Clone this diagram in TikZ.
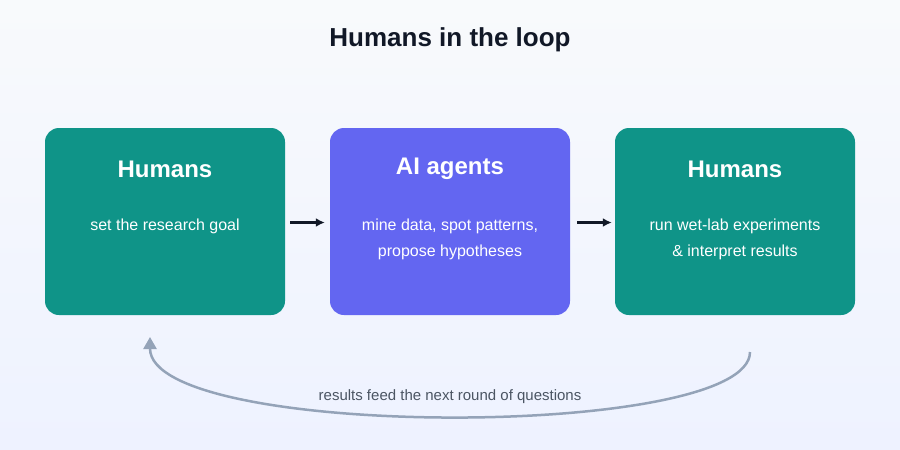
\documentclass[tikz,border=0pt]{standalone}
\usepackage{fontspec}
\setmainfont{Liberation Sans}
\usetikzlibrary{arrows.meta}
\definecolor{tealc}{HTML}{0F9488}
\definecolor{indi}{HTML}{6366F1}
\definecolor{dark}{HTML}{111827}
\definecolor{grayc}{HTML}{94A3B8}
\definecolor{txtg}{HTML}{4B5563}
\definecolor{bgt}{HTML}{F8FAFC}
\definecolor{bgb}{HTML}{EEF2FF}
\begin{document}
\begin{tikzpicture}[x=1pt,y=-1pt,
  box/.style={rounded corners=14pt,minimum width=240pt,minimum height=187pt,inner sep=0pt},
  head/.style={text=white,font=\bfseries\fontsize{24}{28}\selectfont},
  body/.style={text=white,font=\fontsize{16}{26}\selectfont,align=center},
  stp/.style={-{Latex[length=9pt,width=9pt]},line width=2.5pt,draw=dark}]
\fill[top color=bgt,bottom color=bgb] (0,0) rectangle (900,450);
\useasboundingbox (0,0) rectangle (900,450);
\node[font=\bfseries\fontsize{26}{30}\selectfont,text=dark] (title) at (450,40) {Humans in the loop};
\node[box,fill=tealc] (b1) at (165,221.5) {};
\node[box,fill=indi] (b2) at (450,221.5) {};
\node[box,fill=tealc] (b3) at (735,221.5) {};
\node[head] (h1) at (165,169) {Humans};
\node[head] (h2) at (450,169) {AI agents};
\node[head] (h3) at (735,169) {Humans};
\node[body] (t1) at (165,226) {set the research goal};
\node[body] (t2) at (450,239) {mine data, spot patterns,\\propose hypotheses};
\node[body] (t3) at (735,239) {run wet-lab experiments\\\& interpret results};
\draw[stp] ([xshift=5pt,yshift=-1pt]b1.east) -- ([xshift=-5pt,yshift=-1pt]b2.west);
\draw[stp] ([xshift=7pt,yshift=-1pt]b2.east) -- ([xshift=-3pt,yshift=-1pt]b3.west);
\coordinate (ls) at (750,352);
\coordinate (le) at (150,337);
\draw[grayc,line width=2.5pt,-{Triangle[length=12pt,width=13pt]}] (ls) .. controls (750,440) and (150,440) .. (le);
\node[text=txtg,font=\fontsize{15}{18}\selectfont] (lab) at (450,397) {results feed the next round of questions};
\end{tikzpicture}
\end{document}
